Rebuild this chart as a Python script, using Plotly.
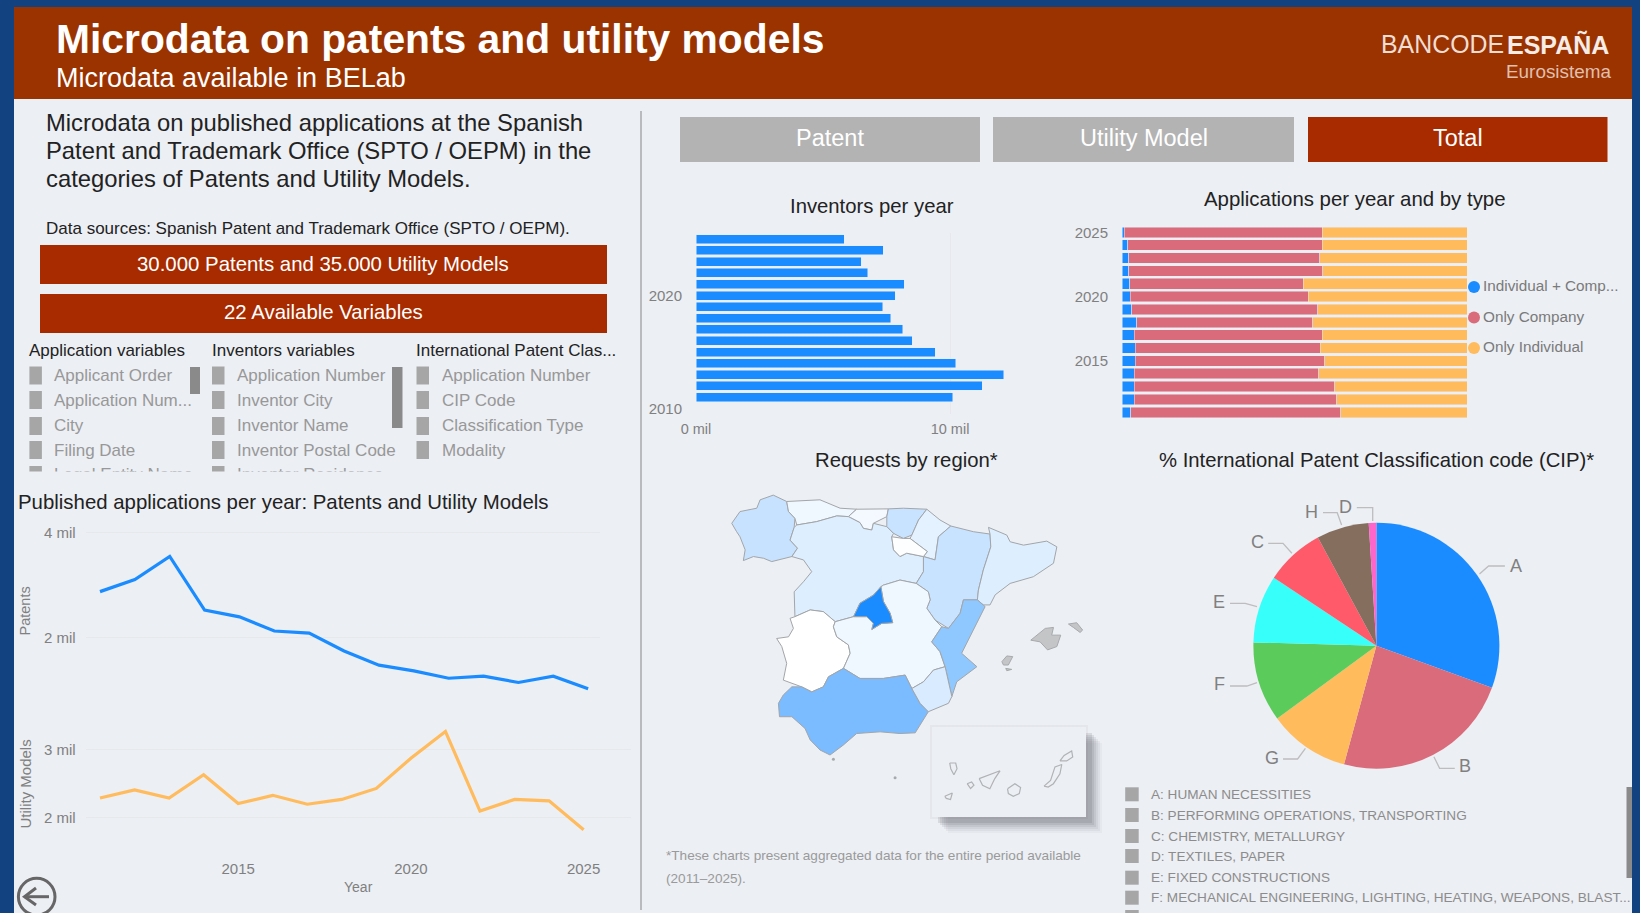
import plotly.graph_objects as go

# ---------- data ----------
years_line = list(range(2011, 2026))
patents = [2870, 3100, 3540, 2520, 2390, 2120, 2080, 1740, 1470, 1360, 1220, 1260, 1140, 1260, 1020]
utility_models = [2290, 2410, 2290, 2630, 2210, 2330, 2200, 2270, 2430, 2870, 3260, 2100, 2270, 2250, 1830]

years_bar = list(range(2025, 2010, -1))
inventors = [5.83, 7.38, 6.51, 6.76, 8.19, 7.84, 7.36, 7.66, 8.14, 8.52, 9.42, 10.23, 12.11, 11.26, 10.10]

type_both = [0.7, 1.7, 2.0, 2.0, 2.2, 2.4, 2.8, 4.3, 3.5, 3.9, 3.9, 3.5, 3.5, 3.5, 2.6]
type_company = [57.3, 56.3, 55.3, 56.2, 50.3, 51.6, 54.0, 51.0, 54.5, 53.6, 54.9, 53.6, 58.2, 58.8, 60.8]
type_individual = [42.0, 42.0, 42.7, 41.8, 47.5, 46.0, 43.2, 44.7, 42.0, 42.5, 41.2, 42.9, 38.3, 37.7, 36.6]

cip_labels = ["A", "B", "G", "F", "E", "C", "H", "D"]
cip_values = [30.6, 23.7, 10.7, 10.5, 8.9, 7.8, 6.9, 1.0]
cip_colors = ["#1A8CFF", "#D96B7B", "#FFBB5C", "#5BCB5B", "#37FFFA", "#FF5A6A", "#866E5E", "#FF66CC"]
cip_legend = ["A: HUMAN NECESSITIES", "B: PERFORMING OPERATIONS, TRANSPORTING", "C: CHEMISTRY, METALLURGY",
              "D: TEXTILES, PAPER", "E: FIXED CONSTRUCTIONS",
              "F: MECHANICAL ENGINEERING, LIGHTING, HEATING, WEAPONS, BLAST..."]

application_vars = ["Applicant Order", "Application Num...", "City", "Filing Date", "Legal Entity Name"]
inventor_vars = ["Application Number", "Inventor City", "Inventor Name", "Inventor Postal Code", "Inventor Residence"]
cip_vars = ["Application Number", "CIP Code", "Classification Type", "Modality"]

# relative request intensity by region and outlines in lon/lat
region_intensity = {"Madrid": 1.0, "Andalucia": 0.58, "Valencia": 0.49, "Galicia": 0.25, "Aragon": 0.24,
                    "Basque": 0.24, "CastillaLeon": 0.15, "Catalonia": 0.15, "Murcia": 0.17, "Navarra": 0.12,
                    "Asturias": 0.07, "Cantabria": 0.05, "CastillaMancha": 0.07, "Rioja": 0.01, "Extremadura": 0.0}
region_lon = {
 "Galicia": [-9.30,-8.98,-8.33,-8.20,-7.69,-7.17,-7.10,-6.85,-6.88,-7.04,-6.75,-6.97,-7.75,-8.07,-8.46,-8.85,-8.78,-8.98,-9.11],
 "Asturias": [-7.17,-5.88,-5.10,-4.46,-4.78,-5.23,-6.01,-6.78,-6.85,-7.10],
 "Cantabria": [-4.78,-4.46,-3.23,-3.29,-3.81,-3.87,-4.20,-4.33],
 "Basque": [-3.23,-2.65,-1.74,-2.06,-2.32,-2.65,-3.03,-3.29,-3.29],
 "Navarra": [-1.74,-1.23,-0.81,-1.29,-1.42,-1.87,-1.72,-2.39,-2.32,-2.06],
 "Rioja": [-3.10,-2.65,-2.39,-1.72,-1.87,-2.52,-2.78,-3.03],
 "Aragon": [-0.81,0.07,0.71,0.74,0.45,0.26,0.22,-0.32,-0.45,-0.90,-1.42,-1.74,-1.61,-1.68,-2.15,-1.87,-1.87,-1.42,-1.29],
 "Catalonia": [0.71,0.65,1.36,1.49,2.01,2.91,3.30,3.17,2.39,1.49,0.91,0.71,0.45,0.22,0.26,0.45,0.74],
 "CastillaLeon": [-6.78,-6.01,-5.23,-4.78,-4.33,-4.20,-3.87,-3.81,-3.29,-3.03,-3.10,-3.03,-2.78,-2.52,-1.87,-1.87,-2.15,-2.78,-3.42,-3.52,-3.81,-4.33,-4.58,-5.29,-5.75,-6.26,-6.85,-6.88,-6.52,-6.20,-6.52,-6.97,-6.75,-7.04,-6.88],
 "CastillaMancha": [-3.42,-2.78,-2.15,-1.68,-1.61,-1.74,-1.42,-1.16,-1.55,-1.23,-1.03,-1.48,-1.87,-2.32,-2.58,-3.42,-4.33,-4.97,-4.71,-4.78,-5.23,-5.36,-5.29,-4.58,-4.07,-3.81,-3.87,-3.49,-3.06,-3.16,-3.42,-3.52],
 "Madrid": [-3.52,-3.42,-3.16,-3.06,-3.49,-3.87,-3.81,-4.07,-4.58,-4.33,-3.81],
 "Extremadura": [-6.26,-5.75,-5.29,-5.36,-5.23,-4.78,-4.71,-4.97,-5.55,-5.75,-6.20,-6.59,-7.30,-7.17,-7.36,-7.56,-7.10,-6.91,-7.04,-6.85],
 "Andalucia": [-6.97,-6.59,-6.20,-5.75,-5.55,-4.97,-4.33,-3.42,-2.58,-2.32,-2.00,-1.68,-2.19,-2.78,-3.55,-4.46,-4.97,-5.49,-5.88,-6.26,-6.46,-6.97,-7.45,-7.49,-7.30],
 "Valencia": [-0.32,0.22,0.52,-0.13,-0.39,0.20,-0.58,-0.77,-1.03,-1.23,-1.55,-1.16,-0.90,-0.45],
 "Murcia": [-2.32,-1.87,-1.48,-1.03,-0.77,-0.90,-1.68,-2.00],
}
region_lat = {
 "Galicia": [42.90,43.25,43.35,43.60,43.74,43.55,43.25,43.05,42.78,42.40,42.16,41.91,41.76,41.86,41.91,41.79,42.11,42.50,42.65],
 "Asturias": [43.55,43.60,43.35,43.32,43.10,43.12,42.95,42.85,43.05,43.25],
 "Cantabria": [43.10,43.32,43.33,43.10,42.90,42.70,42.75,42.92],
 "Basque": [43.33,43.35,43.32,43.00,42.55,42.45,42.60,42.80,43.10],
 "Navarra": [43.32,43.00,42.82,42.50,41.81,41.91,42.06,42.45,42.55,43.00],
 "Rioja": [42.50,42.45,42.45,42.06,41.91,42.01,41.91,42.11],
 "Aragon": [42.82,42.65,42.58,42.20,41.51,40.91,40.62,40.62,40.22,39.77,40.02,40.37,40.62,40.86,41.11,41.46,41.91,41.81,42.50],
 "Catalonia": [42.58,42.78,42.55,42.35,42.25,42.37,42.20,41.71,41.31,41.11,40.77,40.47,40.47,40.62,40.91,41.51,42.20],
 "CastillaLeon": [42.85,42.95,43.12,43.10,42.92,42.75,42.70,42.90,42.80,42.60,42.50,42.11,41.91,42.01,41.91,41.46,41.11,41.21,41.06,41.01,40.76,40.52,40.12,39.97,40.27,40.32,40.12,40.86,41.16,41.46,41.81,41.91,42.16,42.40,42.78],
 "CastillaMancha": [41.06,41.21,41.11,40.86,40.62,40.37,40.02,39.82,39.37,39.08,38.63,38.53,38.18,37.98,38.38,38.28,38.28,38.58,39.03,39.28,39.52,39.82,39.97,40.12,40.12,39.92,39.74,39.92,39.94,40.22,40.57,41.01],
 "Madrid": [41.01,40.57,40.22,39.94,39.92,39.74,39.92,40.12,40.12,40.52,40.76],
 "Extremadura": [40.32,40.27,39.97,39.82,39.52,39.28,39.03,38.58,38.33,38.03,37.88,38.03,38.23,38.73,39.23,39.47,39.52,39.77,40.07,40.12],
 "Andalucia": [38.03,38.03,37.88,38.03,38.33,38.58,38.28,38.28,38.38,37.98,37.54,37.29,36.66,36.64,36.69,36.64,36.30,36.00,36.15,36.45,36.79,37.14,37.14,37.54,37.79],
 "Valencia": [40.62,40.62,40.42,39.42,39.03,38.63,38.18,37.74,38.63,39.08,39.37,39.82,39.77,40.22],
 "Murcia": [37.98,38.18,38.53,38.63,37.74,37.54,37.29,37.54],
}
balearic_lon = [[2.29,2.85,3.17,3.10,3.45,3.30,2.94,2.65],[3.75,4.07,4.30,4.20,3.94],[1.17,1.36,1.59,1.42,1.23],[1.32,1.55,1.36]]
balearic_lat = [[39.42,39.77,39.80,39.57,39.57,39.23,39.13,39.37],[39.90,39.94,39.72,39.65,39.80],[38.78,38.95,38.93,38.68,38.68],[38.58,38.55,38.51]]
enclave_lon = [-5.36, -2.97]
enclave_lat = [35.87, 35.32]
canary_lon = [[-17.98,-17.75,-17.70,-17.82,-17.94],[-18.17,-17.88,-17.95,-18.11],[-17.31,-17.14,-17.05,-17.18],
              [-16.85,-16.50,-16.05,-16.25,-16.44,-16.72],[-15.76,-15.48,-15.26,-15.31,-15.54,-15.73],
              [-14.36,-14.11,-13.94,-13.68,-13.75,-14.00,-14.20],[-13.75,-13.59,-13.30,-13.26,-13.49]]
canary_lat = [[28.84,28.84,28.65,28.45,28.65],[27.73,27.84,27.62,27.66],[28.15,28.21,28.10,27.99],
              [28.32,28.43,28.58,28.32,27.98,28.10],[27.98,28.15,28.02,27.82,27.73,27.82],
              [28.07,28.26,28.71,28.79,28.48,28.15,28.04],[28.91,29.09,29.24,29.04,28.91]]

# ---------- helpers ----------
W, H = 1640, 913
FONT = "Liberation Sans"
BLUE, PINK, AMBER = "#1A8CFF", "#D96B7B", "#FFBB5C"
PANEL, NAVY, HEADER, RED = "#ECEFF4", "#12427F", "#9A3300", "#A82B00"
GRID = "#E6E8EC"
def fx(x): return x / W
def fy(y): return 1 - y / H
def dom_x(a, b): return [fx(a), fx(b)]
def dom_y(top, bottom): return [fy(bottom), fy(top)]

shapes, annots = [], []
def rect(x0, y0, x1, y1, color, layer="below"):
    shapes.append(dict(type="rect", xref="paper", yref="paper", x0=fx(x0), x1=fx(x1), y0=fy(y0), y1=fy(y1),
                       fillcolor=color, line_width=0, layer=layer))
def text(x, y, s, size, color="#222222", anchor="left", bold=False, angle=0):
    if anchor == "left":
        x -= 2
    annots.append(dict(xref="paper", yref="paper", x=fx(x), y=fy(y), text=f"<b>{s}</b>" if bold else s, showarrow=False,
                       xanchor=anchor, yanchor="middle", textangle=angle, font=dict(family=FONT, size=size, color=color)))
def polyline(points, color, width, layer="above"):
    path = "M " + " L ".join(f"{fx(a):.5f},{fy(b):.5f}" for a, b in points)
    shapes.append(dict(type="path", xref="paper", yref="paper", path=path, line=dict(color=color, width=width), layer=layer))
def intensity_color(t):
    c0, c1 = (255, 255, 255), (26, 140, 255)
    return "rgb(%d,%d,%d)" % tuple(round(a + (b - a) * t) for a, b in zip(c0, c1))

# ---------- page frame ----------
rect(14, 7, 1632, 913, PANEL)
rect(14, 7, 1632, 99, HEADER)
text(56, 39, "Microdata on patents and utility models", 40.8, "white", bold=True)
text(56, 78, "Microdata available in BELab", 27, "white")
text(1381.2, 44, "BANCODE", 24.9, "#F0DDD3")
text(1506.5, 44, "ESPAÑA", 25, "#F7ECE6", bold=True)
text(1613, 71.5, "Eurosistema", 18.9, "#E0BFAE", anchor="right")

rect(640, 111, 642, 910, "#B8BABD")

# left column
for i, line in enumerate(["Microdata on published applications at the Spanish",
                          "Patent and Trademark Office (SPTO / OEPM) in the",
                          "categories of Patents and Utility Models."]):
    text(46, 123 + i * 27.5, line, 23.8)
text(46, 229, "Data sources: Spanish Patent and Trademark Office (SPTO / OEPM).", 17)
rect(40, 245, 607, 284, RED)
rect(40, 294, 607, 333, RED)
text(323, 264, "30.000 Patents and 35.000 Utility Models", 20.4, "white", anchor="center")
text(323, 312, "22 Available Variables", 20.4, "white", anchor="center")

slicer_y = [375.5, 400, 426, 450, 475]
for head, items, hx, sx, tx in [("Application variables", application_vars, 28.6, 29.4, 54.3),
                                ("Inventors variables", inventor_vars, 212, 212, 237),
                                ("International Patent Clas...", cip_vars, 416, 416.5, 441.6)]:
    text(hx, 350, head, 17)
    for y, item in zip(slicer_y, items):
        rect(sx, y - 9, sx + 12.5, y + 9, "#A6A6A6")
        text(tx, y, item, 17, "#989898")
annots.append(dict(xref="paper", yref="paper", x=fx(20), y=fy(471), xanchor="left", yanchor="top", text=" ", showarrow=False,
                   width=610, height=16, bgcolor=PANEL, font=dict(size=10)))
rect(190, 367, 200, 394, "#8A8A8A")
rect(392, 367, 402.5, 428, "#8A8A8A")

text(18, 502, "Published applications per year: Patents and Utility Models", 20.4)
text(24.5, 611, "Patents", 14.5, "#808080", anchor="center", angle=-90)
text(24.5, 784, "Utility Models", 15, "#808080", anchor="center", angle=-90)
text(358.5, 887, "Year", 14, "#808080", anchor="center")

shapes.append(dict(type="circle", xref="paper", yref="paper", x0=fx(18.4), x1=fx(55), y0=fy(878.3), y1=fy(915.1),
                   line=dict(color="#666666", width=3), layer="above"))
polyline([(49, 896.7), (24.5, 896.7)], "#666666", 3)
polyline([(36, 888), (24.5, 896.7), (36, 905)], "#666666", 3)

# buttons
rect(680, 117, 980, 162, "#B3B3B3")
rect(993, 117, 1294, 162, "#B3B3B3")
rect(1308, 117, 1607.5, 162, RED)
text(830, 138, "Patent", 23.5, "white", anchor="center")
text(1143.5, 138, "Utility Model", 23.5, "white", anchor="center")
text(1457.5, 138, "Total", 23.5, "white", anchor="center")

# chart titles
text(872, 206, "Inventors per year", 20.3, anchor="center")
text(1355, 199, "Applications per year and by type", 20.4, anchor="center")
text(906.5, 460, "Requests by region*", 20.3, anchor="center")
text(1376, 460, "% International Patent Classification code (CIP)*", 20.3, anchor="center")

# stacked legend
for y, name, c in [(287, "Individual + Comp...", BLUE), (317.5, "Only Company", PINK), (348, "Only Individual", AMBER)]:
    shapes.append(dict(type="circle", xref="paper", yref="paper", x0=fx(1468), x1=fx(1480), y0=fy(y - 6), y1=fy(y + 6),
                       fillcolor=c, line_width=0, layer="above"))
    text(1483, y - 1.5, name, 15.3, "#7A7A7A")

# canary inset
rect(930, 725, 1088, 819, "rgba(70,72,80,0.05)")
for k, alpha in [(16, 0.04), (14, 0.06), (12, 0.07), (10, 0.09), (8, 0.11), (6, 0.13)]:
    rect(932 + k, 727 + k, 1086 + k, 817 + k, f"rgba(70,72,80,{alpha})")
rect(932, 727, 1086, 817, PANEL)

text(666, 855, "*These charts present aggregated data for the entire period available", 13.6, "#9A9A9A")
text(666, 878, "(2011–2025).", 13.6, "#9A9A9A")

# pie labels + leaders
leaders = [("A", 1516, 566, [(1479.5, 574), (1488.6, 566), (1504.9, 566)]),
           ("B", 1465, 766, [(1433.9, 756.7), (1439.6, 768.3), (1454.8, 768.3)]),
           ("G", 1271.6, 757.7, [(1305.4, 748.3), (1297.6, 759), (1283, 759)]),
           ("F", 1219.2, 684.3, [(1257, 682.7), (1246.9, 686), (1230, 686)]),
           ("E", 1219.2, 602.3, [(1257, 606.7), (1245.2, 603.3), (1230, 603.3)]),
           ("C", 1257, 542.3, [(1291.9, 553.3), (1283, 543.3), (1268.2, 543.3)]),
           ("H", 1311.8, 511.7, [(1341.6, 525), (1337.2, 512.7), (1323, 512.7)]),
           ("D", 1345.6, 507, [(1372.7, 521), (1372.7, 507.7), (1356.8, 507.7)])]
for lab, x, y, pts in leaders:
    text(x, y, lab, 18, "#808080", anchor="center")
    polyline(pts, "#BDBDBD", 1.3)

# CIP legend
for y, item in zip([794.3, 815, 836, 856, 877.7, 897.7], cip_legend):
    rect(1125.2, y - 7, 1138.7, y + 7, "#A6A6A6")
    text(1150.6, y, item, 13.6, "#8C8C8C")
rect(1125.2, 910, 1138.7, 925, "#A6A6A6")
rect(1626.5, 787, 1632, 878, "#8A8A8A")

# ---------- traces ----------
fig = go.Figure()
fig.add_trace(go.Bar(y=years_bar, x=inventors, orientation="h", marker_color=BLUE, xaxis="x", yaxis="y", width=0.8,
                     hoverinfo="x+y"))
for name, vals, c in [("Individual + Company", type_both, BLUE), ("Only Company", type_company, PINK),
                      ("Only Individual", type_individual, AMBER)]:
    fig.add_trace(go.Bar(y=years_bar, x=vals, name=name, orientation="h", marker_color=c, xaxis="x2", yaxis="y2", width=0.82))
fig.add_trace(go.Scatter(x=years_line, y=patents, mode="lines", line=dict(color=BLUE, width=3.2), xaxis="x3", yaxis="y3"))
fig.add_trace(go.Scatter(x=years_line, y=utility_models, mode="lines", line=dict(color=AMBER, width=3.2), xaxis="x4", yaxis="y4"))

OUTLINE = "#A3A5A8"
for name in ["Galicia", "Asturias", "Cantabria", "Basque", "Navarra", "CastillaLeon", "Aragon", "Catalonia", "Extremadura",
             "CastillaMancha", "Madrid", "Andalucia", "Valencia", "Murcia", "Rioja"]:
    fig.add_trace(go.Scatter(x=region_lon[name] + region_lon[name][:1], y=region_lat[name] + region_lat[name][:1], mode="lines",
                             fill="toself", fillcolor=intensity_color(region_intensity[name]), line=dict(color=OUTLINE, width=1),
                             xaxis="x5", yaxis="y5", name=name))
for lon, lat in zip(balearic_lon, balearic_lat):
    fig.add_trace(go.Scatter(x=lon + lon[:1], y=lat + lat[:1], mode="lines", fill="toself", fillcolor="#C4C5C7",
                             line=dict(color="#A8A9AB", width=1), xaxis="x5", yaxis="y5"))
fig.add_trace(go.Scatter(x=enclave_lon, y=enclave_lat, mode="markers", marker=dict(color="#A8A9AB", size=3), xaxis="x5", yaxis="y5"))
for lon, lat in zip(canary_lon, canary_lat):
    fig.add_trace(go.Scatter(x=lon + lon[:1], y=lat + lat[:1], mode="lines", line=dict(color="#B0B2B5", width=1.2), xaxis="x6", yaxis="y6"))

cx, cy, r = 1376.4, 645.7, 123
fig.add_trace(go.Pie(labels=cip_labels, values=cip_values, sort=False, direction="clockwise", rotation=0,
                     marker=dict(colors=cip_colors, line=dict(width=0)), textinfo="none", showlegend=False,
                     domain=dict(x=dom_x(cx - r, cx + r), y=dom_y(cy - r, cy + r))))

tickfont = dict(family=FONT, size=15, color="#808080")
def ytick(vals, texts, length):
    return dict(tickvals=vals, ticktext=texts, ticks="outside", ticklen=length, tickcolor="rgba(0,0,0,0)",
                tickfont=tickfont, showline=False, zeroline=False)

fig.update_layout(
    width=W, height=H, margin=dict(l=0, r=0, t=0, b=0, autoexpand=False), showlegend=False, autosize=False,
    paper_bgcolor=NAVY, plot_bgcolor="rgba(0,0,0,0)", font=dict(family=FONT), barmode="stack", hovermode="closest",
    shapes=shapes, annotations=annots,
    xaxis=dict(domain=dom_x(696, 1010), range=[0, 12.36], tickvals=[0, 10], ticktext=["0 mil", "10 mil"], showgrid=True,
               gridcolor=GRID, zeroline=False, showline=False, ticks="outside", ticklen=1, tickcolor="rgba(0,0,0,0)",
               tickfont=dict(family=FONT, size=14.5, color="#808080"), anchor="y"),
    yaxis=dict(domain=dom_y(233.4, 414.2), range=[2009.5, 2025.5], showgrid=False, anchor="x", **ytick([2010, 2020], ["2010", "2020"], 10)),
    xaxis2=dict(domain=dom_x(1122, 1467), range=[0, 100], visible=False, anchor="y2"),
    yaxis2=dict(domain=dom_y(225.9, 418.7), range=[2010.5, 2025.5], showgrid=False, anchor="x2", **ytick([2015, 2020, 2025], ["2015", "2020", "2025"], 10)),
    xaxis3=dict(domain=dom_x(85.7, 600), range=[2010.59, 2025.34], visible=False, anchor="y3"),
    yaxis3=dict(domain=dom_y(525, 735), range=[139, 4139], showgrid=True, gridcolor=GRID, anchor="x3", **ytick([2000, 4000], ["2 mil", "4 mil"], 6)),
    xaxis4=dict(domain=dom_x(85.7, 630.6), range=[2010.586, 2026.36], tickvals=[2015, 2020, 2025], ticktext=["2015", "2020", "2025"],
                showgrid=False, zeroline=False, showline=False, ticks="outside", ticklen=2, tickcolor="rgba(0,0,0,0)", tickfont=tickfont, anchor="y4"),
    yaxis4=dict(domain=dom_y(700, 853), range=[1490, 3718], showgrid=True, gridcolor=GRID, anchor="x4", **ytick([2000, 3000], ["2 mil", "3 mil"], 6)),
    xaxis5=dict(domain=dom_x(700, 1110), range=[-10.53, 5.36], visible=False, anchor="y5"),
    yaxis5=dict(domain=dom_y(480, 800), range=[34.66, 44.19], visible=False, anchor="x5"),
    xaxis6=dict(domain=dom_x(932, 1086), range=[-18.66, -12.75], visible=False, anchor="y6"),
    yaxis6=dict(domain=dom_y(727, 817), range=[27.04, 30.04], visible=False, anchor="x6"),
)
fig.write_html("out.html", config=dict(displayModeBar=False),
               post_script="document.body.style.margin='0';document.body.style.background='#12427F';document.body.style.overflow='hidden';")
